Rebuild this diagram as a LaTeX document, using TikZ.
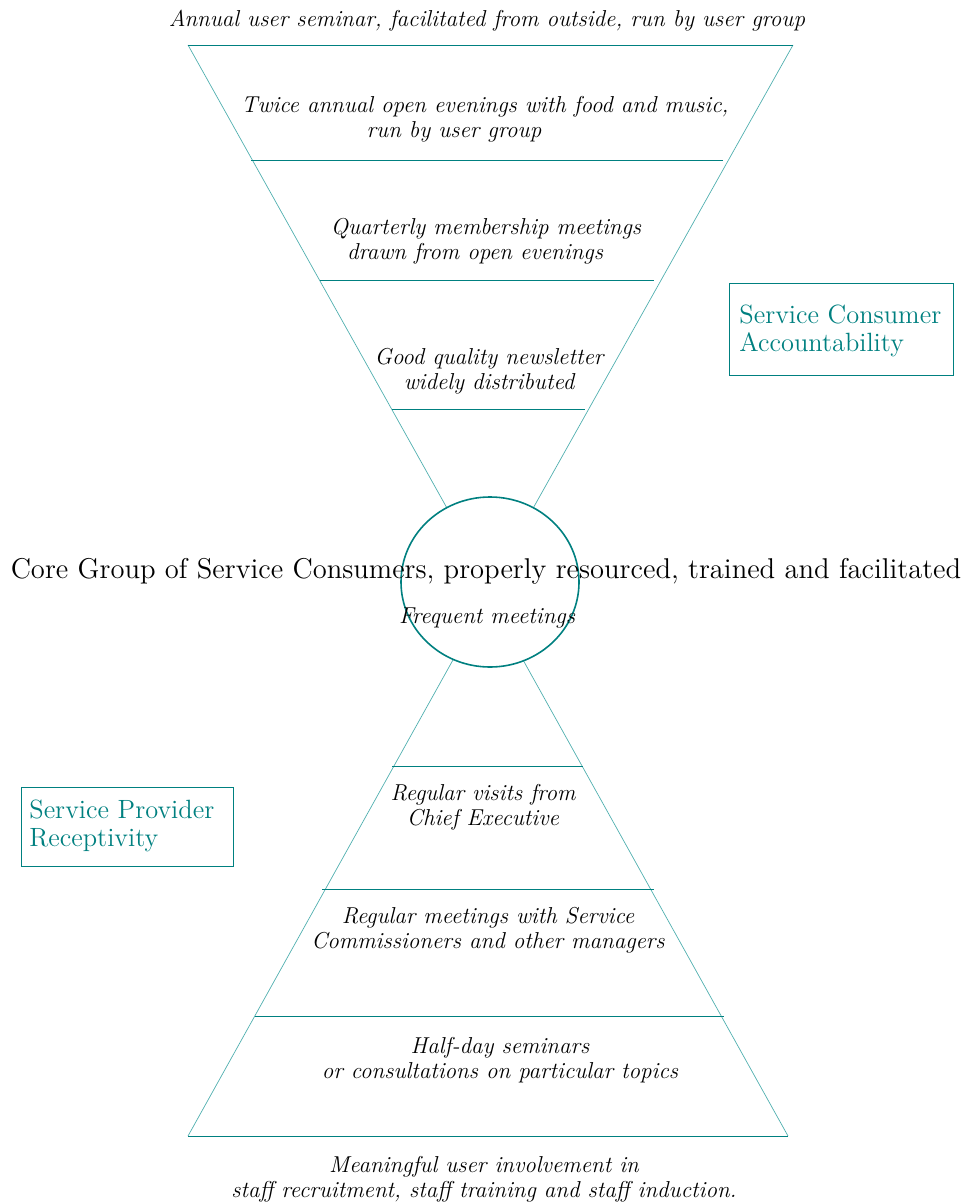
\documentclass[tikz,border=0pt]{standalone}
\usetikzlibrary{shapes.geometric}
\definecolor{tealc}{RGB}{0,128,128}
\definecolor{sidec}{RGB}{80,175,175}
\begin{document}
\begin{tikzpicture}[x=0.5pt,y=-0.5pt,
  side/.style={draw=sidec,line width=0.35pt},
  tier/.style={draw=tealc,line width=0.45pt},
  lbl/.style={font=\fontsize{11.5}{12.6}\selectfont\itshape,align=center,inner sep=0pt},
  tagtext/.style={text=tealc,font=\fontsize{13.2}{14}\selectfont,align=left,anchor=west,inner sep=0pt},
  tagframe/.style={draw=tealc,line width=0.45pt}]
\useasboundingbox (0,0) rectangle (966,1203);
% funnel points
\coordinate (tl) at (188,45);
\coordinate (tr) at (793,45);
\coordinate (ta) at (490,585);
\coordinate (bl) at (188,1136);
\coordinate (br) at (788,1136);
\coordinate (ba) at (488,597);
\draw[side] (tl) -- (ta) -- (tr);
\draw[side] (bl) -- (ba) -- (br);
% tier lines
\draw[tier] (tl) -- (tr);
\coordinate (t1l) at (251,160); \coordinate (t1r) at (723,160);
\coordinate (t2l) at (320,280); \coordinate (t2r) at (654,280);
\coordinate (t3l) at (392,409); \coordinate (t3r) at (585,409);
\draw[tier] (t1l) -- (t1r);
\draw[tier] (t2l) -- (t2r);
\draw[tier] (t3l) -- (t3r);
\coordinate (b1l) at (392,766); \coordinate (b1r) at (583,766);
\coordinate (b2l) at (322,889); \coordinate (b2r) at (654,889);
\coordinate (b3l) at (255,1016); \coordinate (b3r) at (724,1016);
\draw[tier] (b1l) -- (b1r);
\draw[tier] (b2l) -- (b2r);
\draw[tier] (b3l) -- (b3r);
\draw[tier] (bl) -- (br);
% core circle
\node (core) [draw=tealc,fill=white,line width=0.8pt,ellipse,minimum width=89pt,minimum height=85pt,inner sep=0pt] at (490,582) {};
% texts
\node (annual) [lbl] at (487,21) {Annual user seminar, facilitated from outside, run by user group};
\node (twice) [lbl] at (485,119) {Twice annual open evenings with food and music,\\ run by user group\rule{31pt}{0pt}};
\node (quarter) [lbl] at (486,241) {Quarterly membership meetings\\ drawn from open evenings\rule{11pt}{0pt}};
\node (news) [lbl] at (489,371) {Good quality newsletter\\ widely distributed};
\node (coretext) [font=\fontsize{14.3}{17}\selectfont,inner sep=0pt] at (486,571) {Core Group of Service Consumers, properly resourced, trained and facilitated};
\node (freq) [lbl] at (487,618) {Frequent meetings};
\node (visits) [lbl] at (483,807) {Regular visits from\\ Chief Executive};
\node (meet) [lbl] at (488,930) {Regular meetings with Service\\ Commissioners and other managers};
\node (half) [lbl] at (500,1060) {Half-day seminars\\ or consultations on particular topics};
\node (mean) [lbl] at (484,1179) {Meaningful user involvement in\\ staff recruitment, staff training and staff induction.};
% side boxes
\draw[tagframe] (729,283) rectangle (953,375);
\node (sca) [tagtext] at (739,331) {Service Consumer\\Accountability};
\draw[tagframe] (21,787) rectangle (233,866);
\node (spr) [tagtext] at (29,826) {Service Provider\\Receptivity};
\end{tikzpicture}
\end{document}
